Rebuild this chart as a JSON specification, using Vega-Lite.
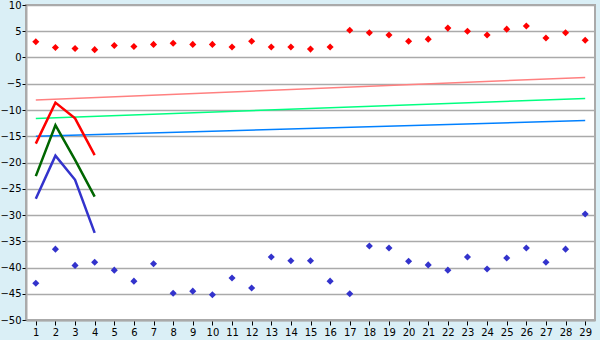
{
  "$schema": "https://vega.github.io/schema/vega-lite/v6.json",
  "autosize": "none",
  "width": 569,
  "height": 315,
  "padding": {"left": 26, "top": 5, "right": 5, "bottom": 20},
  "background": "#daeff6",
  "config": {
    "view": {"fill": "#ffffff", "stroke": "#aaaaaa", "strokeWidth": 2},
    "axis": {"labelFont": "DejaVu Sans", "labelFontSize": 10, "labelColor": "#000000", "tickColor": "#000000", "domainColor": "#aaaaaa", "domainWidth": 2, "gridColor": "#aaaaaa", "gridWidth": 1.5, "gridOpacity": 1}
  },
  "datasets": {
    "pts": [
      {"x": 1, "s": "hi", "v": 3.0}, {"x": 2, "s": "hi", "v": 1.9}, {"x": 3, "s": "hi", "v": 1.7}, {"x": 4, "s": "hi", "v": 1.5},
      {"x": 5, "s": "hi", "v": 2.3}, {"x": 6, "s": "hi", "v": 2.1}, {"x": 7, "s": "hi", "v": 2.5}, {"x": 8, "s": "hi", "v": 2.7},
      {"x": 9, "s": "hi", "v": 2.5}, {"x": 10, "s": "hi", "v": 2.5}, {"x": 11, "s": "hi", "v": 2.0}, {"x": 12, "s": "hi", "v": 3.1},
      {"x": 13, "s": "hi", "v": 2.0}, {"x": 14, "s": "hi", "v": 2.0}, {"x": 15, "s": "hi", "v": 1.6}, {"x": 16, "s": "hi", "v": 2.0},
      {"x": 17, "s": "hi", "v": 5.2}, {"x": 18, "s": "hi", "v": 4.7}, {"x": 19, "s": "hi", "v": 4.3}, {"x": 20, "s": "hi", "v": 3.1},
      {"x": 21, "s": "hi", "v": 3.5}, {"x": 22, "s": "hi", "v": 5.6}, {"x": 23, "s": "hi", "v": 5.0}, {"x": 24, "s": "hi", "v": 4.3},
      {"x": 25, "s": "hi", "v": 5.4}, {"x": 26, "s": "hi", "v": 6.0}, {"x": 27, "s": "hi", "v": 3.7}, {"x": 28, "s": "hi", "v": 4.7},
      {"x": 29, "s": "hi", "v": 3.3},
      {"x": 1, "s": "lo", "v": -43.0}, {"x": 2, "s": "lo", "v": -36.5}, {"x": 3, "s": "lo", "v": -39.6}, {"x": 4, "s": "lo", "v": -39.0},
      {"x": 5, "s": "lo", "v": -40.5}, {"x": 6, "s": "lo", "v": -42.6}, {"x": 7, "s": "lo", "v": -39.3}, {"x": 8, "s": "lo", "v": -44.9},
      {"x": 9, "s": "lo", "v": -44.5}, {"x": 10, "s": "lo", "v": -45.2}, {"x": 11, "s": "lo", "v": -42.0}, {"x": 12, "s": "lo", "v": -43.9},
      {"x": 13, "s": "lo", "v": -38.0}, {"x": 14, "s": "lo", "v": -38.7}, {"x": 15, "s": "lo", "v": -38.7}, {"x": 16, "s": "lo", "v": -42.6},
      {"x": 17, "s": "lo", "v": -45.0}, {"x": 18, "s": "lo", "v": -35.9}, {"x": 19, "s": "lo", "v": -36.3}, {"x": 20, "s": "lo", "v": -38.8},
      {"x": 21, "s": "lo", "v": -39.5}, {"x": 22, "s": "lo", "v": -40.5}, {"x": 23, "s": "lo", "v": -38.0}, {"x": 24, "s": "lo", "v": -40.3},
      {"x": 25, "s": "lo", "v": -38.2}, {"x": 26, "s": "lo", "v": -36.3}, {"x": 27, "s": "lo", "v": -39.0}, {"x": 28, "s": "lo", "v": -36.5},
      {"x": 29, "s": "lo", "v": -29.8}
    ],
    "lines": [
      {"x": 1, "s": "r", "v": -16.4}, {"x": 2, "s": "r", "v": -8.6}, {"x": 3, "s": "r", "v": -11.6}, {"x": 4, "s": "r", "v": -18.6},
      {"x": 1, "s": "g", "v": -22.6}, {"x": 2, "s": "g", "v": -12.9}, {"x": 3, "s": "g", "v": -19.5}, {"x": 4, "s": "g", "v": -26.5},
      {"x": 1, "s": "b", "v": -26.9}, {"x": 2, "s": "b", "v": -18.7}, {"x": 3, "s": "b", "v": -23.3}, {"x": 4, "s": "b", "v": -33.4}
    ],
    "trend": [
      {"x": 1, "s": "tr", "v": -8.1}, {"x": 29, "s": "tr", "v": -3.8},
      {"x": 1, "s": "tg", "v": -11.6}, {"x": 29, "s": "tg", "v": -7.8},
      {"x": 1, "s": "tb", "v": -15.0}, {"x": 29, "s": "tb", "v": -12.0}
    ]
  },
  "encoding": {
    "x": {"field": "x", "type": "quantitative", "scale": {"domain": [0.5, 29.5], "nice": false, "zero": false},
      "axis": {"title": null, "grid": false, "values": [1,2,3,4,5,6,7,8,9,10,11,12,13,14,15,16,17,18,19,20,21,22,23,24,25,26,27,28,29], "tickSize": 5, "labelPadding": 2, "labelFlush": false}},
    "y": {"field": "v", "type": "quantitative", "scale": {"domain": [-50, 10], "nice": false, "zero": false},
      "axis": {"title": null, "values": [-50,-45,-40,-35,-30,-25,-20,-15,-10,-5,0,5,10], "tickSize": 4, "labelPadding": 1, "labelFlush": false}},
    "color": {"field": "s", "type": "nominal", "legend": null,
      "scale": {"domain": ["hi","lo","r","g","b","tr","tg","tb"], "range": ["#ff0000","#3333cc","#ff0000","#006600","#3333cc","#ff8080","#00ff80","#0080ff"]}}
  },
  "layer": [
    {"data": {"name": "trend"}, "mark": {"type": "line", "strokeWidth": 1.5}},
    {"data": {"name": "lines"}, "mark": {"type": "line", "strokeWidth": 2.5}},
    {"data": {"name": "pts"}, "mark": {"type": "point", "shape": "diamond", "filled": true, "size": 50, "opacity": 1}}
  ]
}
